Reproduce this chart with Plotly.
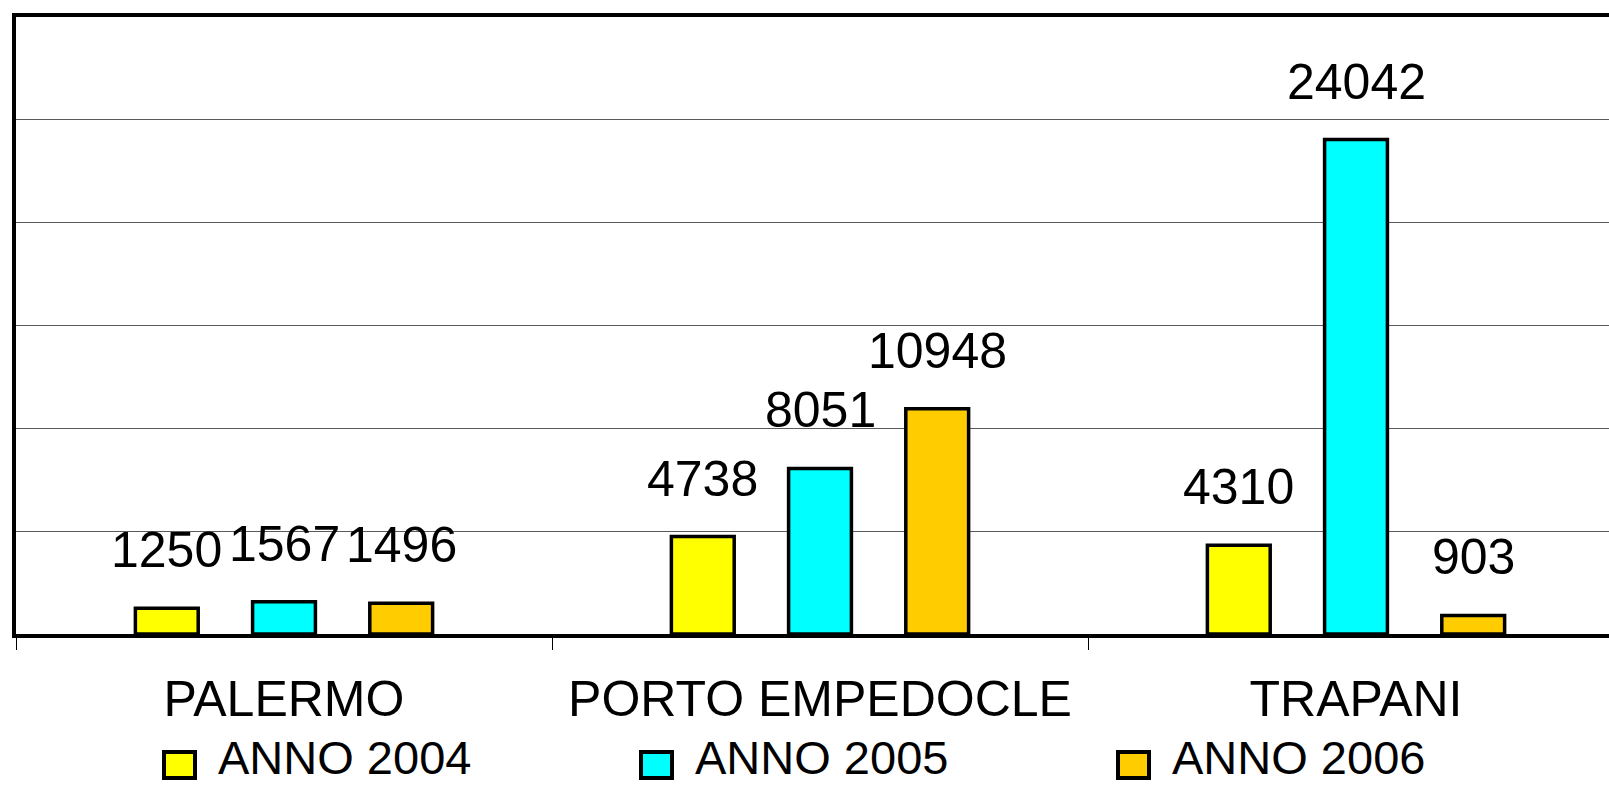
import plotly.graph_objects as go

categories = ["PALERMO", "PORTO EMPEDOCLE", "TRAPANI"]
series_names = ["ANNO 2004", "ANNO 2005", "ANNO 2006"]
values_2004 = [1250, 4738, 4310]
values_2005 = [1567, 8051, 24042]
values_2006 = [1496, 10948, 903]
series_values = [values_2004, values_2005, values_2006]
colors = ["#FFFF00", "#00FFFF", "#FFCC00"]

W, H = 1609, 786
ML, MR, MT, MB = 16, 0, 17, 152
PW, PH = W - ML - MR, H - MT - MB
FONT = "Liberation Sans, Arial, sans-serif"
BARGAP = 0.344
BARGROUPGAP = 0.464

fig = go.Figure()
for name, vals, col in zip(series_names, series_values, colors):
    fig.add_trace(go.Bar(
        x=categories, y=vals, name=name, showlegend=False,
        marker=dict(color=col, line=dict(color="black", width=3.5)),
    ))

# value labels above each bar
slot = (1 - BARGAP) / len(series_values)
annotations = []
for s, vals in enumerate(series_values):
    off = (s - (len(series_values) - 1) / 2) * slot
    for i, v in enumerate(vals):
        annotations.append(dict(
            x=i + off, y=v, xref="x", yref="y", text=str(v), showarrow=False,
            xanchor="center", yanchor="bottom", yshift=28,
            font=dict(family=FONT, size=50, color="black"),
        ))

# legend drawn below the axis
def px2x(p):
    return (p - ML) / PW

def py2y(p):
    return (MT + PH - p) / PH

shapes = []
leg_start, leg_step = 164, 477
for k, (name, col) in enumerate(zip(series_names, colors)):
    x0 = leg_start + k * leg_step
    shapes.append(dict(
        type="rect", xref="paper", yref="paper",
        x0=px2x(x0), x1=px2x(x0 + 31), y0=py2y(778), y1=py2y(752),
        fillcolor=col, line=dict(color="black", width=4),
    ))
    annotations.append(dict(
        x=px2x(x0 + 52), y=py2y(757), xref="paper", yref="paper",
        text=name, showarrow=False, xanchor="left", yanchor="middle",
        font=dict(family=FONT, size=47, color="black"),
    ))

fig.update_layout(
    width=W, height=H,
    margin=dict(l=ML, r=MR, t=MT, b=MB, pad=0),
    paper_bgcolor="white", plot_bgcolor="white",
    barmode="group", bargap=BARGAP, bargroupgap=BARGROUPGAP,
    annotations=annotations, shapes=shapes,
    showlegend=False,
    xaxis=dict(
        range=[-0.5, -0.5 + PW / 536.0],
        tickson="boundaries", ticks="outside", ticklen=12, tickwidth=1,
        tickcolor="black", ticklabelstandoff=18,
        showline=True, linewidth=4, linecolor="black", mirror=True,
        showgrid=False, zeroline=False,
        tickfont=dict(family=FONT, size=50, color="black"),
    ),
    yaxis=dict(
        range=[0, 30000], dtick=5000, showgrid=True, gridcolor="#5a5a5a",
        gridwidth=1, showticklabels=False, ticks="",
        showline=True, linewidth=4, linecolor="black", zeroline=False,
    ),
)

fig.write_html(
    "out.html",
    config={"displayModeBar": False},
    post_script="document.body.style.margin='0px';document.body.style.overflow='hidden';",
)
